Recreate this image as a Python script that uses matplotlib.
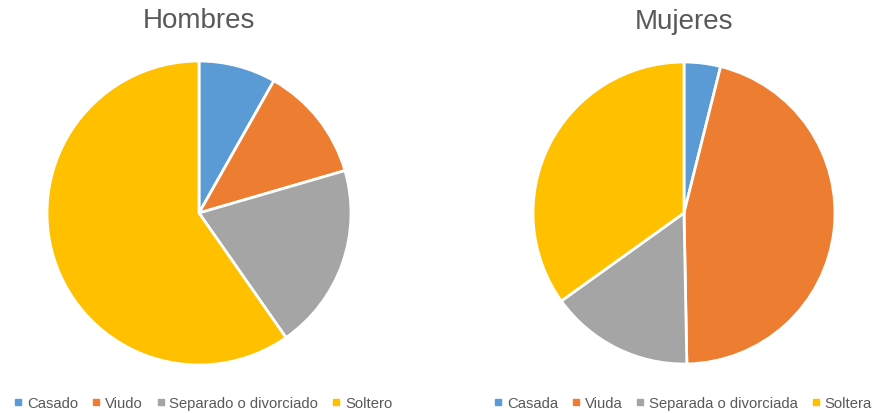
import matplotlib
matplotlib.use("Agg")
import matplotlib.pyplot as plt
from matplotlib.lines import Line2D

plt.rcParams['font.family'] = ['Liberation Sans', 'DejaVu Sans']

# ─── data ────────────────────────────────────────────────────────────────────
labels_h = ["Casado", "Viudo", "Separado o divorciado", "Soltero"]
values_h = [8.2, 12.3, 19.8, 59.7]

labels_m = ["Casada", "Viuda", "Separada o divorciada", "Soltera"]
values_m = [3.9, 45.8, 15.4, 34.9]

colors = ["#5B9BD5", "#ED7D31", "#A5A5A5", "#FFC000"]
text_col = "#595959"

W, H = 875, 414
fig = plt.figure(figsize=(W / 100, H / 100), dpi=100)


def draw_pie(cx, cy, r, values, labels, title, title_y, leg_x, leg_loc):
    ax = fig.add_axes([(cx - r) / W, 1 - (cy + r) / H, 2 * r / W, 2 * r / H])
    ax.pie(values, colors=colors, startangle=90, counterclock=False,
           wedgeprops=dict(edgecolor="white", linewidth=2))
    ax.set_aspect("equal")
    ax.set_xlim(-1, 1); ax.set_ylim(-1, 1)
    fig.text(cx / W, 1 - title_y / H, title, ha="center", va="center",
             fontsize=20, color=text_col)
    handles = [Line2D([], [], marker="s", linestyle="", color=c, markersize=5)
               for c in colors]
    fig.legend(handles, labels, loc=leg_loc, bbox_to_anchor=(leg_x / W, 1 - 404 / H),
               ncol=4, frameon=False, fontsize=10.7, labelcolor=text_col,
               handlelength=0.6, handletextpad=0.3, columnspacing=0.9,
               borderaxespad=0, borderpad=0)


draw_pie(199, 214, 152, values_h, labels_h, "Hombres", 21, 203, "center")
draw_pie(684, 214, 151, values_m, labels_m, "Mujeres", 22, 872, "center right")

fig.savefig("out.png", dpi=100, facecolor="white")
